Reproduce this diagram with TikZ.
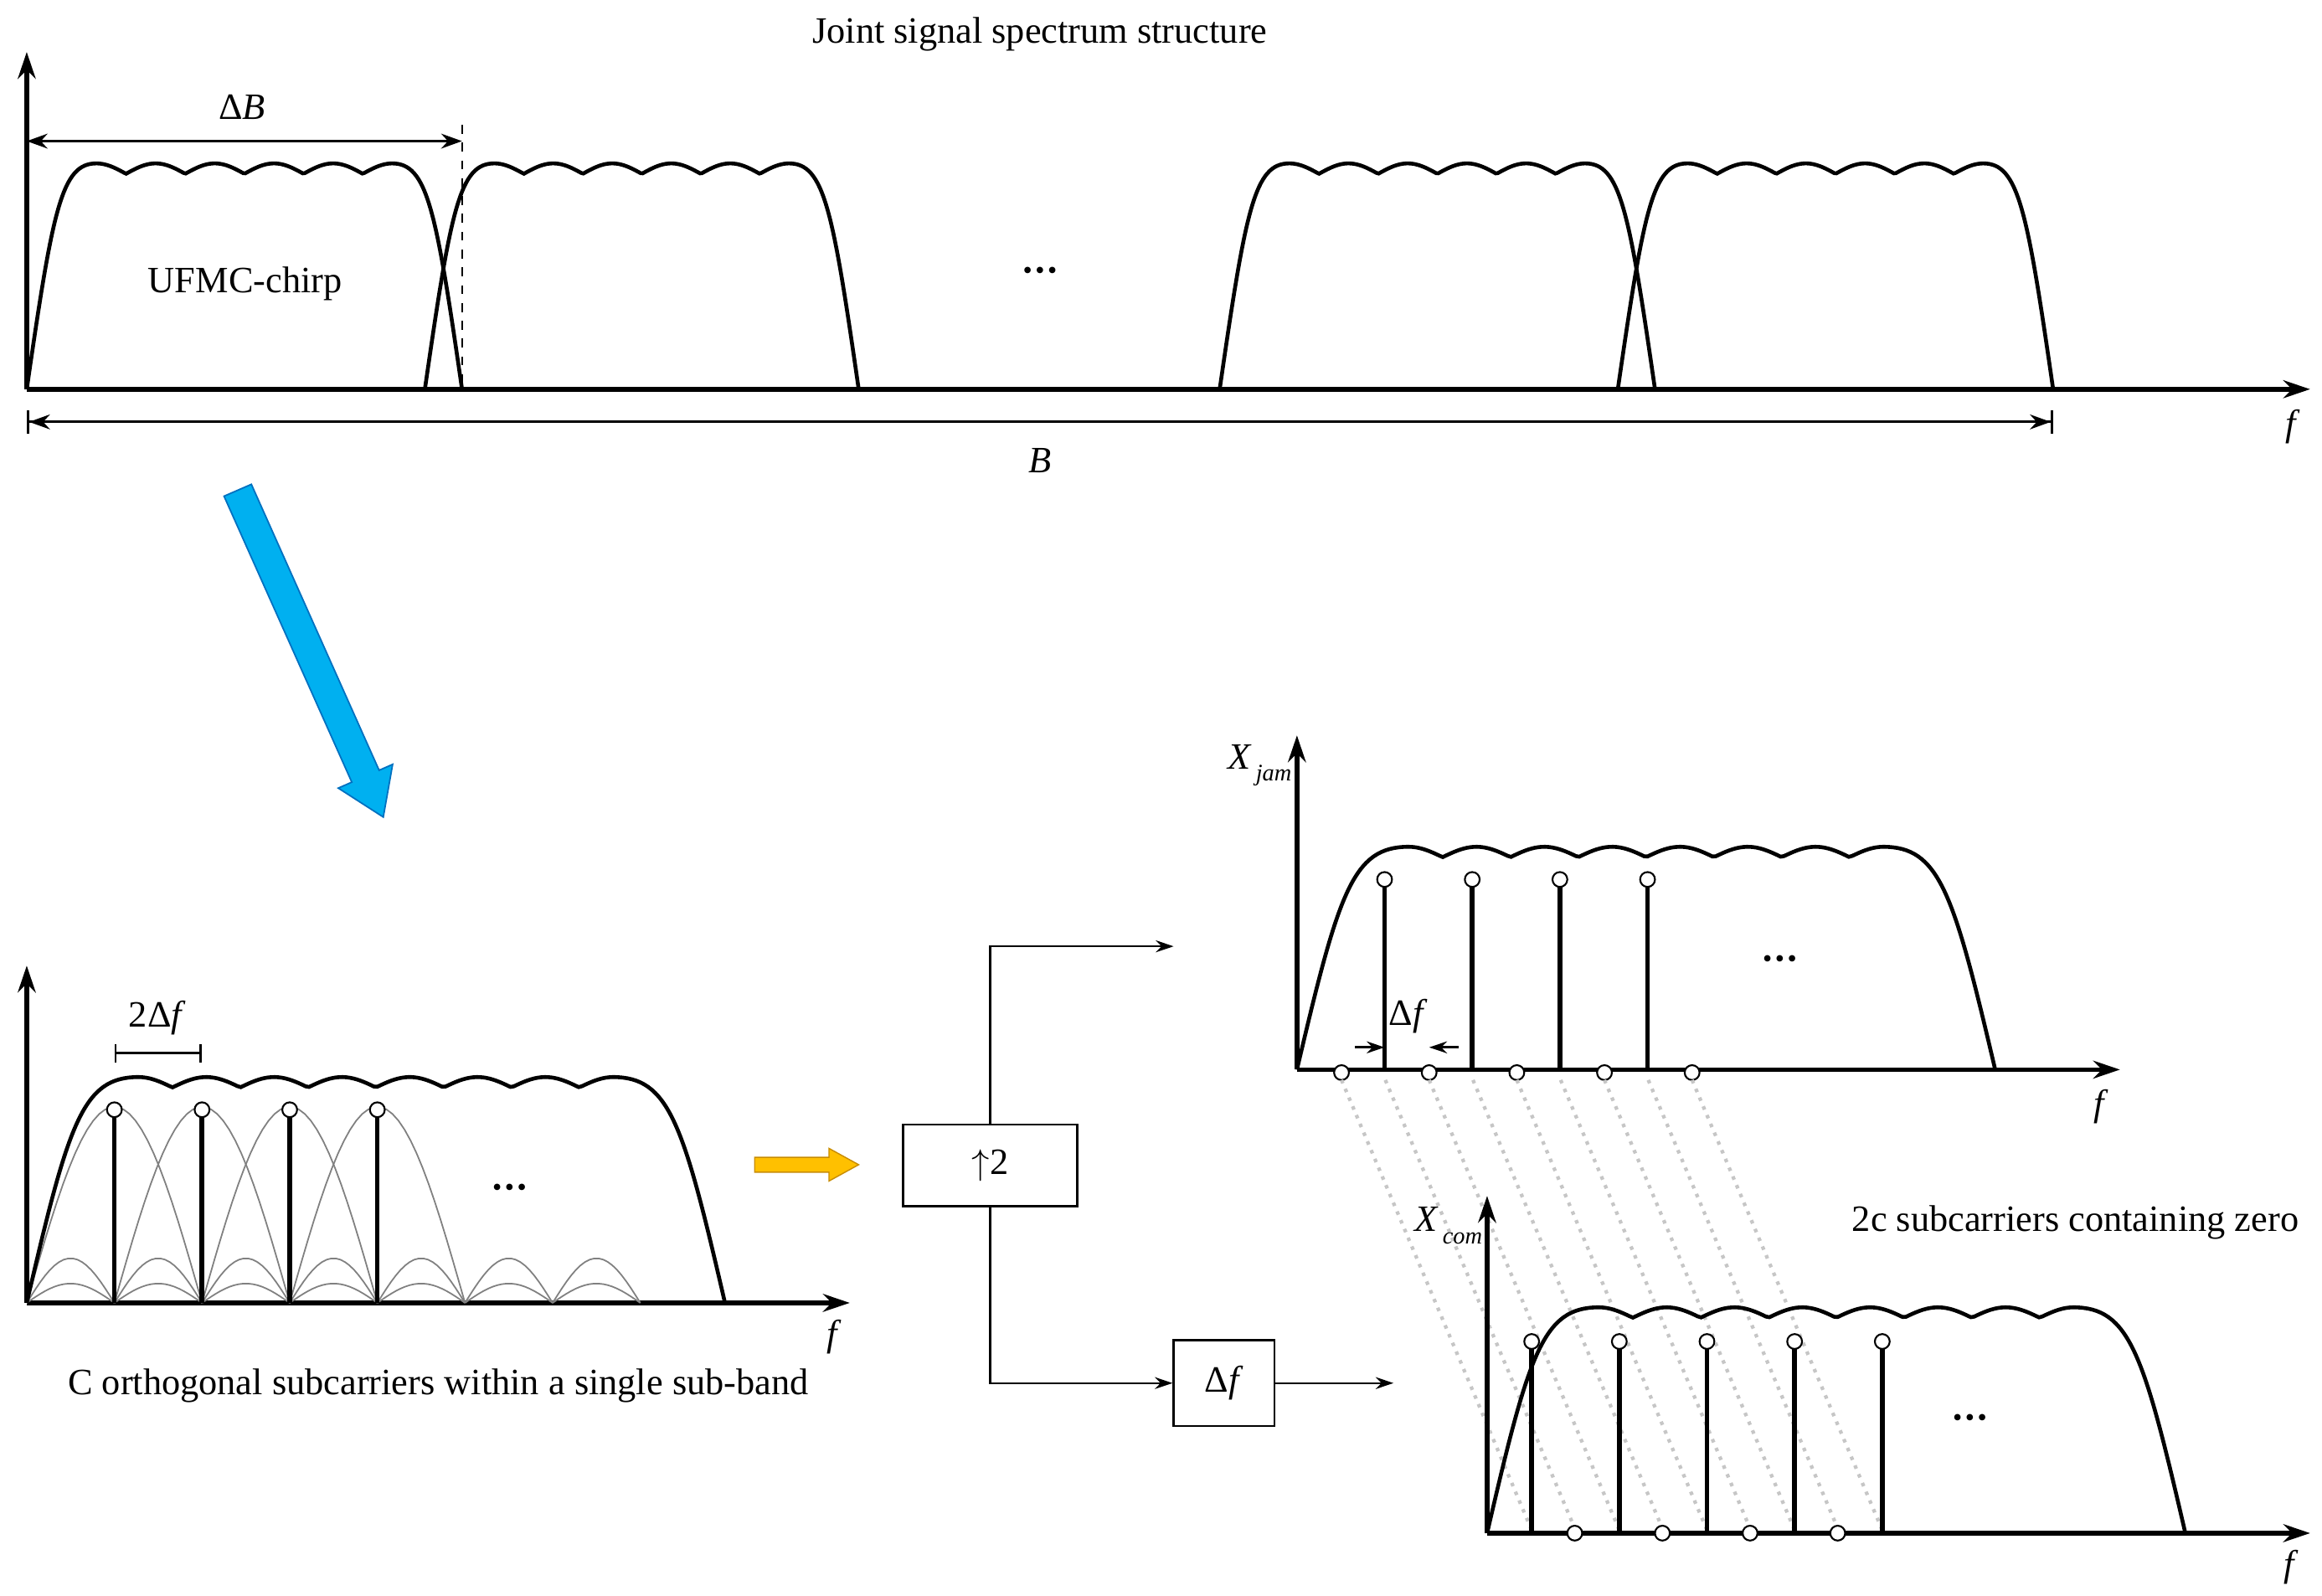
\documentclass[tikz,border=0pt]{standalone}
\usepackage{fontspec}
\setmainfont{Liberation Serif}
\usetikzlibrary{arrows.meta}
\tikzset{
 bandline/.style={line width=1.3pt},
 axisline/.style={line width=1.6pt,-{Stealth[length=9pt,width=6pt]}},
 stem/.style={line width=1.6pt},
 dot/.style={circle,draw,fill=white,line width=0.6pt,inner sep=0pt,minimum size=5pt},
 lbl/.style={font=\fontsize{12.5}{14}\selectfont},
 ilbl/.style={font=\fontsize{12.5}{14}\selectfont\itshape},
 dots/.style={font=\fontsize{9}{10}\selectfont},
 conn/.style={line width=0.7pt,-{Stealth[length=6pt,width=4pt]}},
 lobe/.style={gray,line width=0.5pt},
 dline/.style={gray!45,line width=1.2pt,dotted}
}
\newcommand{\band}[5]{%
\pgfmathsetmacro\bxa{#1+0.16*#2}\pgfmathsetmacro\bxb{#1+0.84*#2}\pgfmathsetmacro\btop{#3-#4}%
\draw[bandline] (#1,#3) .. controls ({#1+0.06*#2},{#3-0.8*#4}) and ({#1+0.08*#2},\btop) .. (\bxa,\btop)
 -- plot[domain=0:1,samples=140] ({\bxa+\x*(\bxb-\bxa)},{\btop+7*(1-abs(cos(180*#5*\x)))})
 .. controls ({#1+0.92*#2},\btop) and ({#1+0.94*#2},{#3-0.8*#4}) .. ({#1+#2},#3);}
\newcommand{\tdots}{\textbullet\kern1pt\textbullet\kern1pt\textbullet}
\begin{document}
\begin{tikzpicture}[x=0.5pt,y=-0.5pt]
\useasboundingbox (0,0) rectangle (1563,1074);
% top
\node[lbl] (title) at (700,23) {Joint signal spectrum structure};
\coordinate (o1) at (18,262);
\draw[axisline] (o1) -- (18,35);
\draw[axisline] (o1) -- (1555,262);
\node[ilbl] (f1) at (1542,287) {f};
\band{18}{293}{262}{152}{5}
\band{286}{292}{262}{152}{5}
\band{821}{293}{262}{152}{5}
\band{1089}{293}{262}{152}{5}
\coordinate (db1) at (18,95); \coordinate (db2) at (311,95);
\draw[line width=0.8pt,{Stealth[length=7pt,width=5pt]}-{Stealth[length=7pt,width=5pt]}] (db1) -- (db2);
\draw[dashed,line width=0.5pt] (311,84) -- (311,262);
\node[lbl] (dB) at (163,72) {Δ\textit{B}};
\node[lbl] (ufmc) at (165,191) {UFMC-chirp};
\node[dots] (dots1) at (700,184) {\tdots};
\coordinate (b1) at (18,284); \coordinate (b2) at (1382,284);
\draw[line width=0.8pt,{Bar[width=8pt]Stealth[length=7pt,width=5pt]}-{Stealth[length=7pt,width=5pt]Bar[width=8pt]}] (b1) -- (b2);
\node[ilbl] (Blab) at (700,310) {B};
% blue arrow
\fill[fill={rgb,255:red,0;green,176;blue,240},draw={rgb,255:red,0;green,112;blue,192},line width=0.5pt]
 (169.2,326) -- (255.2,518.5) -- (264.3,514.5) -- (258,550) -- (227.7,530.5) -- (236.8,526.5) -- (150.8,334) -- cycle;
% lower left
\coordinate (o2) at (18,877);
\draw[axisline] (o2) -- (18,650);
\draw[axisline] (o2) -- (572,877);
\node[ilbl] (f2) at (560,900) {f};
\foreach \c in {77,136,195,254}{
 \draw[lobe] plot[domain=-1:1,samples=30] ({\c+59*\x},{877-132*cos(90*\x)});}
\foreach \k in {0,...,6}{
 \draw[lobe] plot[domain=0:1,samples=20] ({18+59*\k+59*\x},{877-30*sin(180*\x)});
 \draw[lobe] plot[domain=0:1,samples=20] ({18+59*\k+59*\x},{877-13*sin(180*\x)});}
\band{18}{470}{877}{152}{7}
\foreach \c in {77,136,195,254}{\draw[stem] (\c,877) -- (\c,747); \node[dot] at (\c,747) {};}
\draw[line width=0.8pt,|-|] (77,709) -- (136,709);
\node[lbl] (tdf) at (106,685) {2Δ\textit{f}};
\node[dots] (dots2) at (343,801) {\tdots};
\node[lbl] (cap) at (295,933) {C orthogonal subcarriers within a single sub-band};
% yellow arrow
\fill[fill={rgb,255:red,255;green,192;blue,0},draw={rgb,255:red,200;green,140;blue,0},line width=0.4pt]
 (508,779) -- (558,779) -- (558,773) -- (578,784) -- (558,795) -- (558,789) -- (508,789) -- cycle;
% boxes
\node[draw,line width=0.7pt,minimum width=58.5pt,minimum height=27.5pt,lbl] (up) at (666.5,784.5) {$\uparrow$2};
\node[draw,line width=0.7pt,minimum width=34pt,minimum height=29pt,lbl] (df) at (824,931) {Δ\textit{f}};
\coordinate (jin) at (790,637);
\coordinate (cout) at (938,931);
\draw[conn] (up.north) |- (jin);
\draw[conn] (up.south) |- (df.west);
\draw[conn] (df.east) -- (cout);
% jam
\coordinate (o3) at (873,720);
\draw[axisline] (o3) -- (873,495);
\draw[axisline] (o3) -- (1427,720);
\node[lbl] (xj) at (848,515) {\textit{X}\raisebox{-4pt}{\fontsize{8}{9}\selectfont\,\textit{jam}}};
\node[ilbl] (f3) at (1413,745) {f};
\band{873}{470}{720}{150}{7}
\foreach \c in {932,991,1050,1109}{\draw[stem] (\c,720) -- (\c,592); \node[dot] at (\c,592) {};}
\foreach \c in {903,962,1021,1080,1139}{\node[dot] at (\c,722) {};}
\draw[line width=0.8pt,-{Stealth[length=6pt,width=4pt]}] (912,705) -- (932,705);
\draw[line width=0.8pt,-{Stealth[length=6pt,width=4pt]}] (982,705) -- (962,705);
\node[lbl] (jdf) at (948,684) {Δ\textit{f}};
\node[dots] (dots3) at (1198,647) {\tdots};
% dotted links
\foreach \k in {0,...,8}{\draw[dline] ({903+29.5*\k},727) -- ({1031+29.5*\k},1030);}
% com
\coordinate (o4) at (1001,1032);
\draw[axisline] (o4) -- (1001,805);
\draw[axisline] (o4) -- (1555,1032);
\node[lbl] (xc) at (975,825) {\textit{X}\raisebox{-4pt}{\fontsize{8}{9}\selectfont\,\textit{com}}};
\node[ilbl] (f4) at (1541,1055) {f};
\band{1001}{470}{1032}{152}{7}
\foreach \c in {1031,1090,1149,1208,1267}{\draw[stem] (\c,1032) -- (\c,903); \node[dot] at (\c,903) {};}
\foreach \c in {1060,1119,1178,1237}{\node[dot] at (\c,1032) {};}
\node[dots] (dots4) at (1326,956) {\tdots};
\node[lbl] (zc) at (1397,823) {2c subcarriers containing zero};
\end{tikzpicture}
\end{document}
